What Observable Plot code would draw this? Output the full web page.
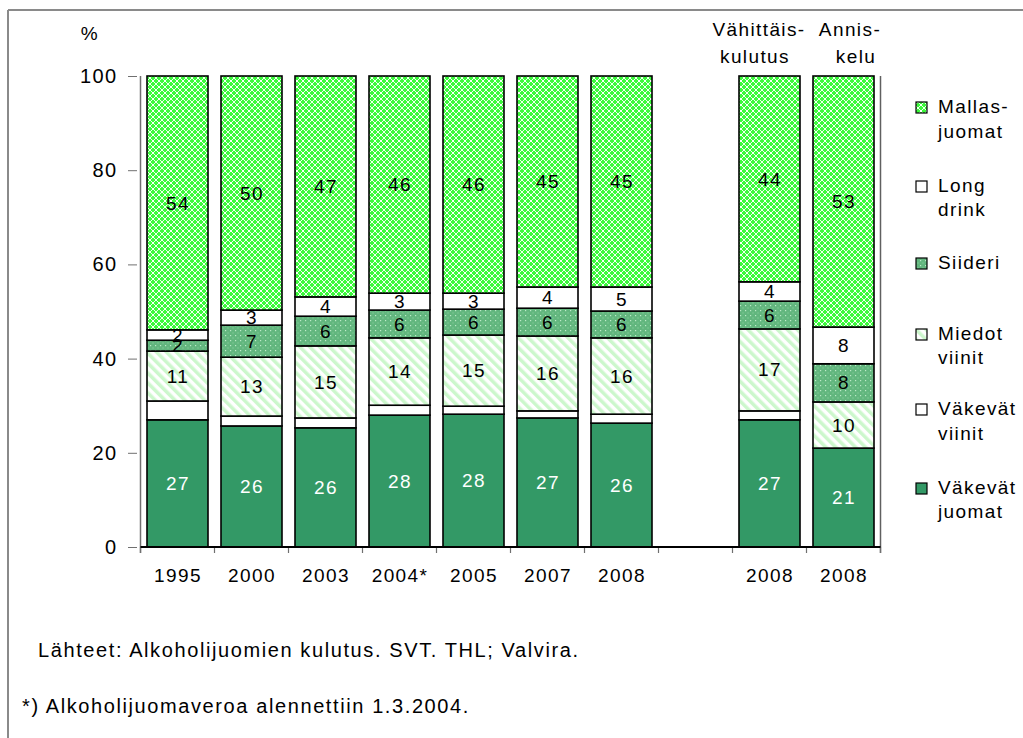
<!DOCTYPE html>
<html>
<head>
<meta charset="utf-8">
<script src="https://cdn.jsdelivr.net/npm/d3@7"></script>
<script src="https://cdn.jsdelivr.net/npm/@observablehq/plot@0.6"></script>
<style>
  html, body { margin: 0; padding: 0; background: #fff; }
  #wrap { position: relative; width: 1023px; height: 738px; overflow: hidden; background: #fff; }
  #wrap > svg { position: absolute; left: 0; top: 0; }
  #overlay { pointer-events: none; }
</style>
</head>
<body>
<div id="wrap"></div>
<script>
// ---------- data ----------
const keys      = ["1995", "2000", "2003", "2004*", "2005", "2007", "2008", "gap", "2008v", "2008a"];
const xLabels   = ["1995", "2000", "2003", "2004*", "2005", "2007", "2008", "", "2008", "2008"];
const barKeys   = ["1995", "2000", "2003", "2004*", "2005", "2007", "2008", "2008v", "2008a"];

const seriesKeys  = ["vj", "vv", "mv", "si", "ld", "ma"];
const seriesNames = [["Väkevät", "juomat"], ["Väkevät", "viinit"], ["Miedot", "viinit"], ["Siideri"], ["Long", "drink"], ["Mallas-", "juomat"]];

// segment heights (%)
const vakevatJuomat = [27.0, 25.7, 25.3, 28.0, 28.2, 27.4, 26.3, 27.0, 21.0];
const vakevatViinit = [4.0, 2.1, 2.1, 2.1, 1.7, 1.5, 1.9, 1.9, 0];
const miedotViinit  = [10.6, 12.5, 15.3, 14.3, 15.1, 15.9, 16.2, 17.4, 9.8];
const siideri       = [2.3, 6.8, 6.3, 5.9, 5.5, 5.9, 5.7, 5.9, 8.1];
const longDrink     = [2.2, 3.2, 4.1, 3.6, 3.4, 4.5, 5.1, 4.1, 7.8];
const mallasjuomat  = [53.9, 49.7, 46.9, 46.1, 46.1, 44.8, 44.8, 43.7, 53.3];

// printed labels
const lblVJ = [27, 26, 26, 28, 28, 27, 26, 27, 21];
const lblMV = [11, 13, 15, 14, 15, 16, 16, 17, 10];
const lblSI = [2, 7, 6, 6, 6, 6, 6, 6, 8];
const lblLD = [2, 3, 4, 3, 3, 4, 5, 4, 8];
const lblMA = [54, 50, 47, 46, 46, 45, 45, 44, 53];

const yTicks = [0, 20, 40, 60, 80, 100];

const headerV = ["Vähittäis-", "kulutus"];
const headerA = ["Annis-", "kelu"];
const caption1 = "Lähteet: Alkoholijuomien kulutus. SVT. THL; Valvira.";
const caption2 = "*) Alkoholijuomaveroa alennettiin 1.3.2004.";

// ---------- table ----------
const valuesBySeries = {vj: vakevatJuomat, vv: vakevatViinit, mv: miedotViinit, si: siideri, ld: longDrink, ma: mallasjuomat};
const labelsBySeries = {vj: lblVJ, vv: null, mv: lblMV, si: lblSI, ld: lblLD, ma: lblMA};
const data = [];
barKeys.forEach((k, i) => {
  seriesKeys.forEach(s => {
    data.push({cat: k, series: s, value: valuesBySeries[s][i], label: labelsBySeries[s] ? String(labelsBySeries[s][i]) : null});
  });
});
const labelOf = Object.fromEntries(keys.map((k, i) => [k, xLabels[i]]));
const fillUrls = ["url(#pVJ)", "url(#pVV)", "url(#pMV)", "url(#pSI)", "url(#pLD)", "url(#pMA)"];

const FONT = "'Liberation Sans', Arial, Helvetica, sans-serif";

// custom mark: axis lines and boundary ticks, from the scales
function frameLines(index, scales, values, dimensions) {
  const {x, y} = scales;
  const dom = x.domain();
  const bw = x.bandwidth();
  const step = x.step ? x.step() : (x(dom[1]) - x(dom[0]));
  const gap = (step - bw) / 2;
  const bounds = dom.map(d => x(d) - gap).concat([x(dom[dom.length - 1]) + bw + gap]);
  const y0 = y(0), y100 = y(100);
  const g = d3.create("svg:g");
  const left = bounds[0], right = bounds[bounds.length - 1];
  g.append("line").attr("x1", left).attr("x2", left).attr("y1", y100).attr("y2", y0 + 6)
    .attr("stroke", "#707070").attr("stroke-width", 1.5);
  g.append("line").attr("x1", right).attr("x2", right).attr("y1", y100).attr("y2", y0 + 6)
    .attr("stroke", "#606060").attr("stroke-width", 1.5);
  bounds.forEach(b => {
    g.append("line").attr("x1", b).attr("x2", b).attr("y1", y0).attr("y2", y0 + 6)
      .attr("stroke", "#707070").attr("stroke-width", 1.2);
  });
  g.append("line").attr("x1", left).attr("x2", right).attr("y1", y0).attr("y2", y0)
    .attr("stroke", "#000").attr("stroke-width", 2.2);
  return g.node();
}

const chart = Plot.plot({
  width: 1023,
  height: 738,
  marginLeft: 137,
  marginRight: 139,
  marginTop: 76,
  marginBottom: 191,
  style: {fontFamily: FONT, fontSize: "19px", letterSpacing: "1.4px", background: "transparent", overflow: "visible"},
  x: {domain: keys, paddingInner: 0.17, paddingOuter: 0.085, axis: null},
  y: {domain: [0, 100], axis: null},
  color: {type: "ordinal", domain: seriesKeys, range: fillUrls},
  marks: [
    Plot.barY(data.filter(d => d.value > 0), {x: "cat", y: "value", fill: "series", stroke: "#000", strokeWidth: 1.6, order: null}),
    Plot.text(data, Plot.stackY({x: "cat", y: "value", z: "series", order: null,
      text: d => d.series === "vj" ? d.label : null, fill: "white", fontSize: 19})),
    Plot.text(data, Plot.stackY({x: "cat", y: "value", z: "series", order: null,
      text: d => d.series !== "vj" ? d.label : null, fill: "black", fontSize: 19})),
    Plot.axisY({ticks: yTicks, tickSize: 9, tickPadding: 11, stroke: "#707070", fontSize: 20, label: null}),
    Plot.axisX({tickSize: 0, tickPadding: 21, tickFormat: d => labelOf[d], fontSize: 19, label: null}),
    frameLines
  ]
});

const wrap = document.getElementById("wrap");
wrap.appendChild(chart);

// ---------- overlay: patterns, border, headers, legend, captions ----------
const ov = d3.select(wrap).append("svg").attr("id", "overlay")
  .attr("width", 1023).attr("height", 738)
  .style("font-family", FONT).style("font-size", "19px").style("letter-spacing", "1.4px");

const defs = ov.append("defs");
defs.html(`
  <pattern id="pVJ" width="4" height="4" patternUnits="userSpaceOnUse">
    <rect width="4" height="4" fill="#339966"/>
  </pattern>
  <pattern id="pVV" width="4" height="4" patternUnits="userSpaceOnUse">
    <rect width="4" height="4" fill="#ffffff"/>
  </pattern>
  <pattern id="pLD" width="4" height="4" patternUnits="userSpaceOnUse">
    <rect width="4" height="4" fill="#ffffff"/>
  </pattern>
  <pattern id="pMV" width="7" height="7" patternUnits="userSpaceOnUse" patternTransform="rotate(-45)">
    <rect width="7" height="7" fill="#ffffff"/>
    <rect width="3.5" height="7" fill="#ccf7cc"/>
  </pattern>
  <pattern id="pSI" width="5" height="5" patternUnits="userSpaceOnUse">
    <rect width="5" height="5" fill="#62b67e"/>
    <rect x="0" y="0" width="1.2" height="1.2" fill="#bdebc8"/>
    <rect x="2.5" y="2.5" width="1" height="1" fill="#93d6a6"/>
  </pattern>
  <pattern id="pMA" width="6" height="6" patternUnits="userSpaceOnUse">
    <rect width="6" height="6" fill="#3cfa3c"/>
    <path d="M0 0L6 6M6 0L0 6" stroke="#f0fff0" stroke-width="1"/>
    <path d="M3 2V4M2 3H4" stroke="#ffffff" stroke-width="0.8"/>
  </pattern>
`);

// outer border (left and top)
ov.append("line").attr("x1", 8).attr("x2", 8).attr("y1", 10).attr("y2", 738).attr("stroke", "#8a8a8a").attr("stroke-width", 2);
ov.append("line").attr("x1", 8).attr("x2", 1023).attr("y1", 10).attr("y2", 10).attr("stroke", "#8a8a8a").attr("stroke-width", 2);

function txt(x, y, s, anchor = "start", size = 19, spacing = null) {
  const t = ov.append("text").attr("x", x).attr("y", y).attr("text-anchor", anchor)
    .style("font-size", size + "px").attr("fill", "#000").text(s);
  if (spacing != null) t.style("letter-spacing", spacing + "px");
}

txt(90, 40, "%", "middle", 19);
txt(759, 36, headerV[0], "middle");
txt(755, 63, headerV[1], "middle");
txt(850, 36, headerA[0], "middle");
txt(856, 63, headerA[1], "middle");

txt(38, 657, caption1, "start", 20, 1.6);
txt(22, 713, caption2, "start", 20, 1.6);

// legend (top to bottom: Mallas first)
const legendBase = [[113, 138], [192, 216], [269], [340, 364], [415, 440], [494, 518]];
const order = [5, 4, 3, 2, 1, 0];
order.forEach((si, j) => {
  const lines = seriesNames[si];
  const b = legendBase[j];
  ov.append("rect").attr("x", 916).attr("y", b[0] - 11).attr("width", 11).attr("height", 11)
    .attr("fill", fillUrls[si]).attr("stroke", "#000").attr("stroke-width", 1.2);
  lines.forEach((ln, k) => txt(938, b[k], ln, "start", 19));
});
</script>
</body>
</html>
